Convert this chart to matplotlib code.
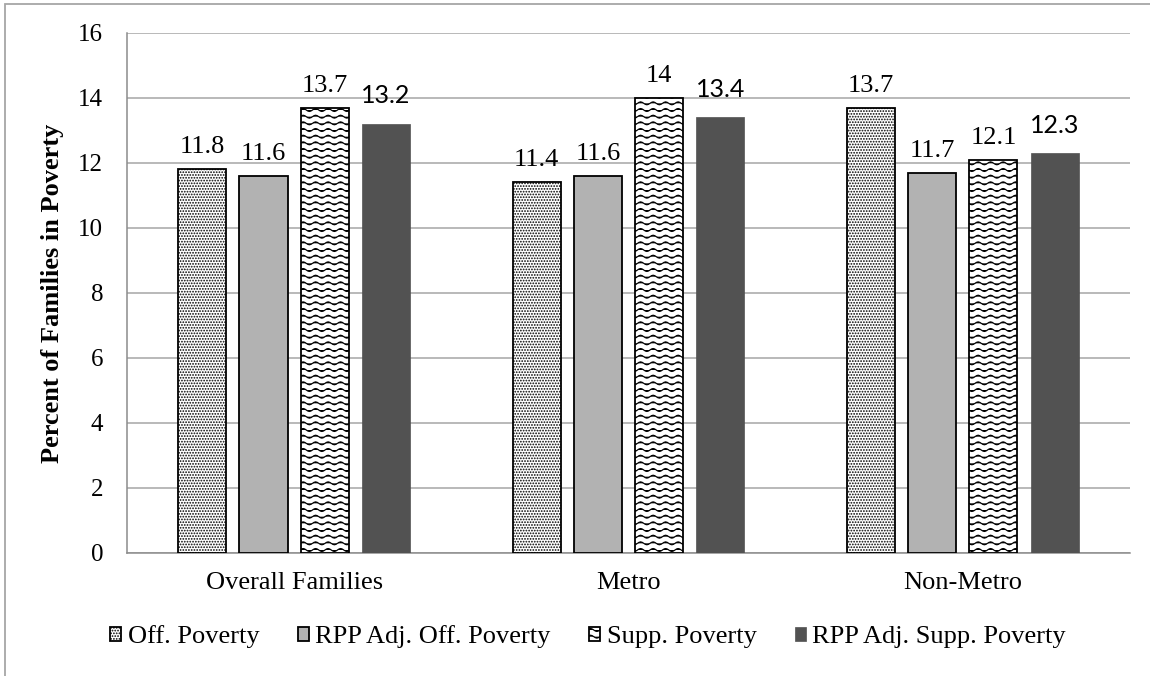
import warnings
import numpy as np
import matplotlib
matplotlib.use("Agg")
import matplotlib.pyplot as plt
from matplotlib import hatch as mhatch
from matplotlib.path import Path
from matplotlib.patches import Rectangle

warnings.filterwarnings("ignore")

categories = ["Overall Families", "Metro", "Non-Metro"]
series_names = ["Off. Poverty", "RPP Adj. Off. Poverty",
                "Supp. Poverty", "RPP Adj. Supp. Poverty"]
off_poverty = [11.8, 11.4, 13.7]
rpp_off_poverty = [11.6, 11.6, 11.7]
supp_poverty = [13.7, 14.0, 12.1]
rpp_supp_poverty = [13.2, 13.4, 12.3]
value_labels = [["11.8", "11.4", "13.7"],
                ["11.6", "11.6", "11.7"],
                ["13.7", "14", "12.1"],
                ["13.2", "13.4", "12.3"]]


# wavy hatch, selected with '~' in the hatch string
class WaveHatch(mhatch.HatchPatternBase):
    periods = 8
    pts_per_period = 8

    def __init__(self, hatch, density):
        self.num_rows = int(hatch.count('~') * density * 0.85)
        self.n = self.periods * self.pts_per_period + 1
        self.num_vertices = self.num_rows * self.n

    def set_vertices_and_codes(self, vertices, codes):
        rows, step = np.linspace(0.0, 1.0, self.num_rows, False, retstep=True)
        rows += step / 2
        xs = np.linspace(0.0, 1.0, self.n)
        amp = step * 0.22
        for k, y0 in enumerate(rows):
            sl = slice(k * self.n, (k + 1) * self.n)
            vertices[sl, 0] = xs
            vertices[sl, 1] = y0 + amp * np.sin(2 * np.pi * self.periods * xs)
            codes[sl] = Path.LINETO
            codes[k * self.n] = Path.MOVETO


mhatch._hatch_types.append(WaveHatch)

plt.rcParams['hatch.linewidth'] = 0.85
serif = "Liberation Serif"
fs = 19

fig = plt.figure(figsize=(11.5, 6.76), dpi=100)
ax = fig.add_axes([0.1104, 0.182, 0.8722, 0.7692])

x = np.arange(len(categories))
pitch = 0.183
width = 0.144
styles = [
    dict(color="white", edgecolor="black", hatch="......", linewidth=1.3),
    dict(color="#b2b2b2", edgecolor="black", linewidth=1.3),
    dict(color="white", edgecolor="black", hatch="~~~", linewidth=1.3),
    dict(color="#525252", edgecolor="#525252", linewidth=0.5),
]
all_values = [off_poverty, rpp_off_poverty, supp_poverty, rpp_supp_poverty]

for i, (vals, name, st) in enumerate(zip(all_values, series_names, styles)):
    xi = x + (i - 1.5) * pitch
    ax.bar(xi, vals, width, label=name, zorder=3, **st)
    for xx, v, lab in zip(xi, vals, value_labels[i]):
        if i == 3:
            ax.annotate(lab, (xx, v), xytext=(0, 12), textcoords="offset points",
                        ha="center", va="bottom", fontsize=18, family="Lato")
        else:
            ax.annotate(lab, (xx, v), xytext=(0, 8), textcoords="offset points",
                        ha="center", va="bottom", fontsize=fs, family=serif)

ax.set_xlim(-0.5, 2.5)
ax.set_ylim(0, 16)
ax.set_yticks(np.arange(0, 17, 2))
ax.set_xticks(x)
ax.set_xticklabels(categories, fontsize=fs, family=serif)
for t in ax.get_yticklabels():
    t.set_fontsize(18)
    t.set_family(serif)
ax.tick_params(axis="y", length=0, pad=17)
ax.tick_params(axis="x", length=0, pad=14)

ax.grid(axis="y", color="#a6a6a6", linewidth=1.1, zorder=0)
ax.set_axisbelow(True)
for side in ["top", "right"]:
    ax.spines[side].set_visible(False)
for side in ["left", "bottom"]:
    ax.spines[side].set_color("#8c8c8c")
    ax.spines[side].set_linewidth(1.1)

ax.set_ylabel("Percent of Families in Poverty", fontsize=fs, fontweight="bold",
              family=serif, labelpad=10)

fig.legend(loc="center", bbox_to_anchor=(588 / 1150, 1 - 637 / 676), ncol=4,
           frameon=False, prop={"family": serif, "size": fs},
           handlelength=0.42, handleheight=0.42, handletextpad=0.25,
           columnspacing=1.45, borderaxespad=0, borderpad=0)

# outer chart frame
fig.patches.append(Rectangle((5 / 1150, -0.5), 1.5, 1.5 - 3.5 / 676,
                             transform=fig.transFigure, fill=False,
                             edgecolor="#a6a6a6", linewidth=1.3))

fig.savefig("out.png", dpi=100)
